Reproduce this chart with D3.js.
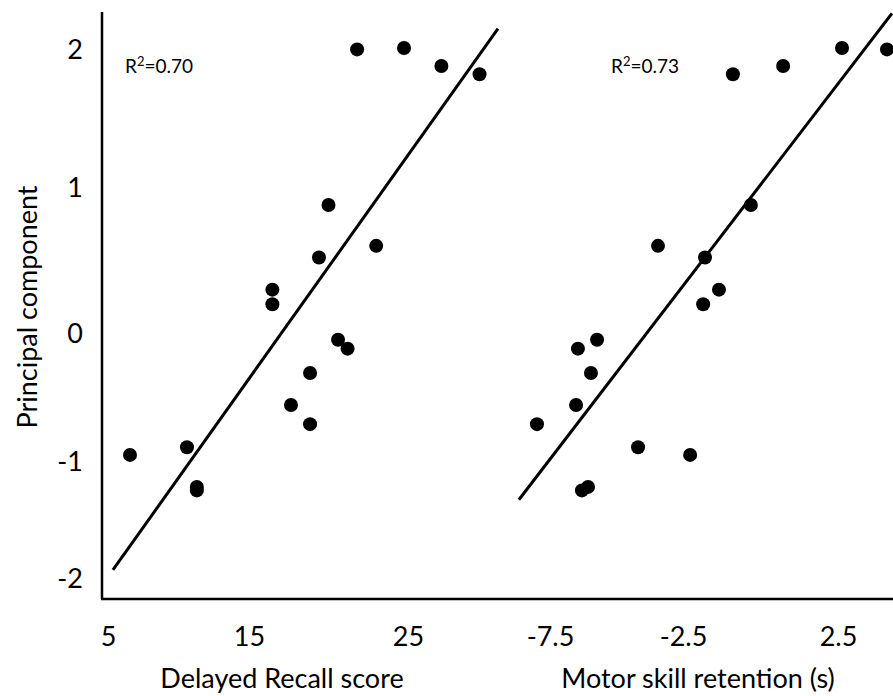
<!DOCTYPE html>
<html><head><meta charset="utf-8">
<script src="https://cdn.jsdelivr.net/npm/d3@7"></script>
<style>
html,body{margin:0;padding:0;background:#fff;overflow:hidden;}
svg{display:block;font-family:Lato,"Open Sans",sans-serif;}
</style>
</head><body>
<svg id="chart" width="893" height="696"></svg>
<script>
// Principal component score per subject (shared y of both panels)
const pcScore       = [1.99, 2.00, 1.87, 1.81, 0.87, 0.51, 0.59, 0.29, 0.19, -0.06, -0.13, -0.32, -0.57, -0.72, -0.90, -0.96, -1.23, -1.26];
// Delayed Recall score per subject
const recallScore   = [21.8, 24.75, 27.1, 29.5, 20.0, 19.4, 23.0, 16.47, 16.47, 20.6, 21.2, 18.84, 17.64, 18.84, 10.6, 6.56, 11.3, 11.3];
// Motor skill retention (s) per subject
const motorRetention= [4.08, 2.63, 0.73, -0.89, -0.31, -1.79, -3.44, -1.34, -1.85, -5.73, -6.45, -5.96, -6.52, -7.99, -4.19, -2.27, -6.07, -6.30];

// fitted regression lines (end points in data units)
const recallFitX = [5.35, 30.66];
const recallFitY = [-1.94, 2.14];
const motorFitX  = [-8.67, 4.24];
const motorFitY  = [-1.34, 2.25];

const yTicks      = [-2, -1, 0, 1, 2];
const recallTicks = [5, 15, 25];
const motorTicks  = [-7.5, -2.5, 2.5];
const yTickLabels      = ["-2", "-1", "0", "1", "2"];
const recallTickLabels = ["5", "15", "25"];
const motorTickLabels  = ["-7.5", "-2.5", "2.5"];
const recallR2 = "0.70";
const motorR2  = "0.73";

const svg = d3.select("#chart");

// scales (tick labels in the source are not evenly spaced, so piecewise linear)
const y = d3.scaleLinear().domain(yTicks).range([577, 460, 332, 186, 48]);
const xRecall = d3.scaleLinear().domain(recallTicks).range([108, 249, 408]);
const xMotor  = d3.scaleLinear().domain(motorTicks).range([550, 683, 838]);

const axisFont = 27;
const fam = "Lato, 'Open Sans', sans-serif";

// axis lines
svg.append("line").attr("x1", 102).attr("x2", 102).attr("y1", 12).attr("y2", 599)
  .attr("stroke", "#000").attr("stroke-width", 2.5);
svg.append("line").attr("x1", 101).attr("x2", 893).attr("y1", 599).attr("y2", 599)
  .attr("stroke", "#000").attr("stroke-width", 2.5);

// y axis labels
const yAxis = svg.append("g").attr("transform", "translate(83,0)")
  .call(d3.axisLeft(y).tickValues(yTicks).tickSize(0).tickPadding(0)
    .tickFormat((d, i) => yTickLabels[i]));
yAxis.select(".domain").remove();
yAxis.selectAll("text").attr("font-size", axisFont).attr("font-family", fam)
  .attr("fill", "#000").attr("dy", null).attr("dominant-baseline", "central");

// x axes labels
function xAxisLabels(scale, ticks, labels) {
  const g = svg.append("g").attr("transform", "translate(0,635)")
    .call(d3.axisBottom(scale).tickValues(ticks).tickSize(0).tickPadding(0)
      .tickFormat((d, i) => labels[i]));
  g.select(".domain").remove();
  g.selectAll("text").attr("font-size", axisFont).attr("font-family", fam)
    .attr("fill", "#000").attr("y", 0).attr("dy", null).attr("dominant-baseline", "central");
}
xAxisLabels(xRecall, recallTicks, recallTickLabels);
xAxisLabels(xMotor, motorTicks, motorTickLabels);

// axis titles
svg.append("text").attr("x", 282).attr("y", 688).attr("text-anchor", "middle")
  .attr("font-size", axisFont).text("Delayed Recall score");
svg.append("text").attr("x", 698).attr("y", 688).attr("text-anchor", "middle")
  .attr("font-size", axisFont).text("Motor skill retention (s)");
svg.append("text").attr("transform", "translate(26,307) rotate(-90)")
  .attr("text-anchor", "middle").attr("dominant-baseline", "central")
  .attr("font-size", axisFont).text("Principal component");

// regression lines
const line = d3.line();
function fitLine(xs, ys, sx) {
  svg.append("path")
    .attr("d", line(xs.map((v, i) => [sx(v), y(ys[i])])))
    .attr("stroke", "#000").attr("stroke-width", 3).attr("fill", "none");
}
fitLine(recallFitX, recallFitY, xRecall);
fitLine(motorFitX, motorFitY, xMotor);

// points
svg.append("g").selectAll("circle").data(pcScore).join("circle")
  .attr("cx", (d, i) => xRecall(recallScore[i])).attr("cy", d => y(d))
  .attr("r", 7).attr("fill", "#000");
svg.append("g").selectAll("circle").data(pcScore).join("circle")
  .attr("cx", (d, i) => xMotor(motorRetention[i])).attr("cy", d => y(d))
  .attr("r", 7).attr("fill", "#000");

// R² annotations
function r2Label(x, val) {
  const t = svg.append("text").attr("x", x).attr("y", 73).attr("font-size", 19);
  t.append("tspan").text("R");
  t.append("tspan").attr("dy", -7).attr("font-size", 13).text("2");
  t.append("tspan").attr("dy", 7).text("=" + val);
}
r2Label(125, recallR2);
r2Label(611, motorR2);
</script>
</body></html>
